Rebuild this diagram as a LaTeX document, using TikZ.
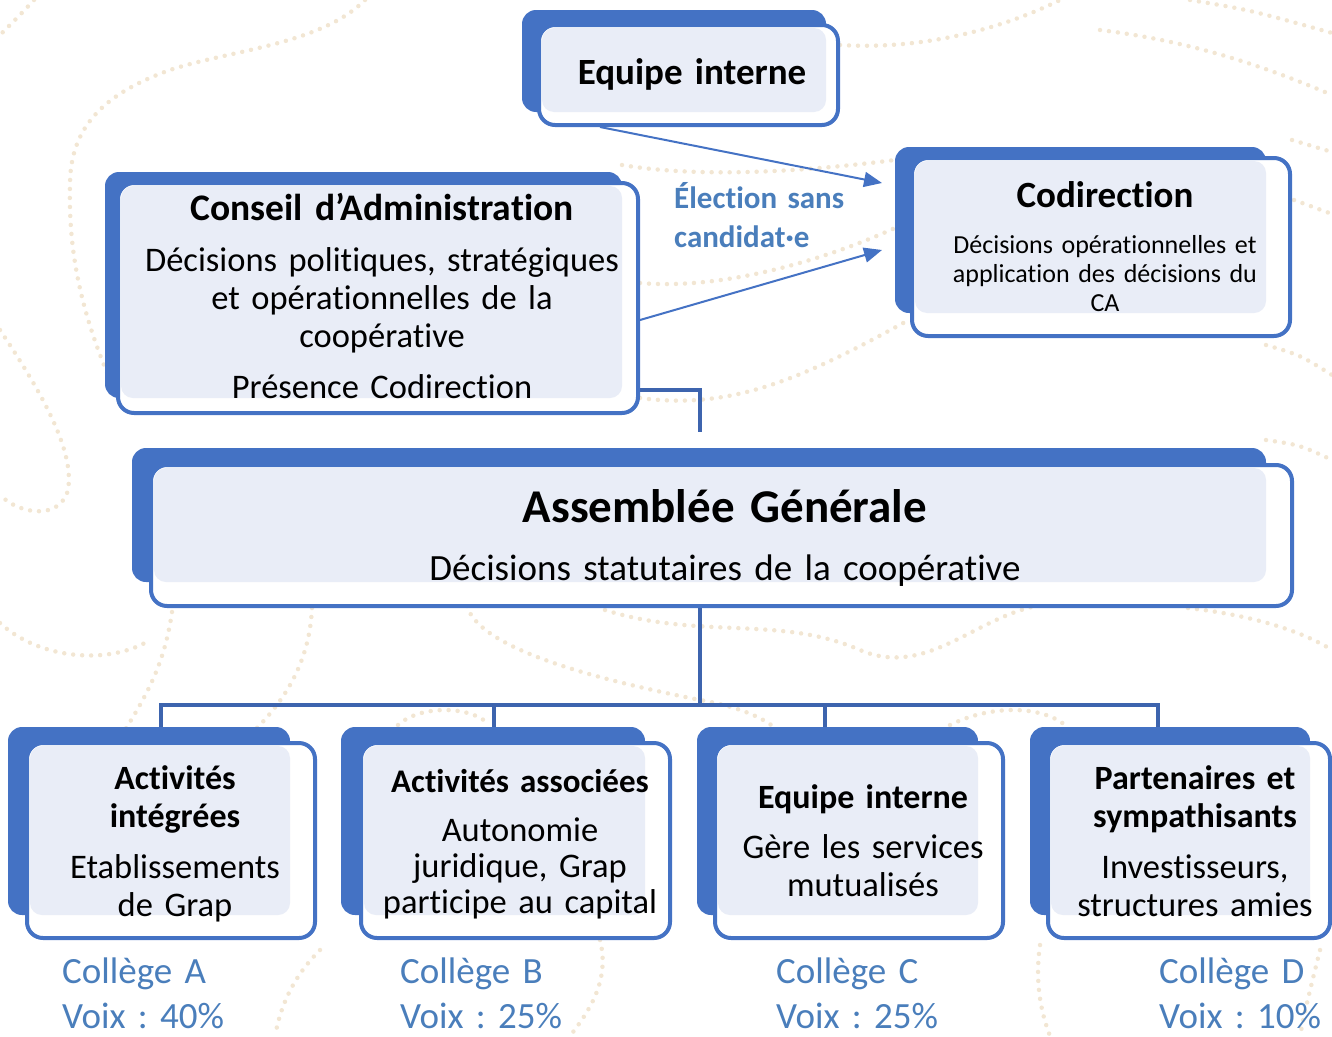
\documentclass[tikz,border=0pt]{standalone}
\usepackage{fontspec}
\setmainfont{Carlito}[Ligatures=NoCommon, Contextuals=NoAlternate]
\usepackage{tikz}
\usetikzlibrary{arrows.meta,calc,fit,backgrounds}
\frenchspacing

\definecolor{boxblue}{HTML}{4472C4}
\definecolor{boxfill}{HTML}{E9EDF7}
\definecolor{treeblue}{HTML}{3D64AE}
\definecolor{textblue}{HTML}{4A7EBB}
\definecolor{dotbeige}{HTML}{F2E6D3}

\tikzset{
  frontbox/.style={draw=boxblue, line width=4pt, fill=white, rounded corners=16pt, inner sep=0pt},
  boxtitle/.style={font=\bfseries\fontsize{34}{38}\selectfont, text width=540pt, align=center, inner sep=0pt, anchor=base},
  boxtext/.style={font=\fontsize{34.5}{38}\selectfont, text width=540pt, align=center, inner sep=0pt, anchor=base},
  college/.style={font=\fontsize{37}{45}\selectfont, text=textblue, text width=300pt, align=left, inner sep=0pt, anchor=base west},
  elect/.style={font=\bfseries\fontsize{31}{39}\selectfont, text=textblue, text width=250pt, align=left, inner sep=0pt, anchor=base west},
  vote/.style={draw=boxblue, line width=2pt, -{Triangle[length=18pt,width=15pt]}},
  tree/.style={draw=treeblue, line width=4.5pt},
  bgdots/.style={draw=dotbeige, line width=4.5pt, line cap=round, dash pattern=on 0pt off 9pt}
}

% back block, white front block, light overlap
\newcommand{\GrapBox}[5]{%
  \fill[boxblue, rounded corners=14pt] #2 rectangle #3;
  \node[frontbox, fit={#4 #5}] (#1) {};
  \fill[boxfill, rounded corners=12pt] ($#4+(3,3)$) rectangle #3;
}

\begin{document}
\begin{tikzpicture}[x=1pt,y=-1pt]
    \useasboundingbox (0,0) rectangle (1332,1036);

    % dotted background
    \begin{scope}[on background layer]
    \draw[bgdots] (34,0) .. controls (20,15) .. (0,35);
    \draw[bgdots] (365,0) .. controls (320,45) and (230,50) .. (170,70) .. controls (100,95) and (70,130) .. (70,185) .. controls (68,260) and (85,320) .. (110,380);
    \draw[bgdots] (0,330) .. controls (40,390) and (75,450) .. (68,490) .. controls (60,520) and (20,515) .. (0,495);
    \draw[bgdots] (0,623) .. controls (40,660) and (110,665) .. (150,640);
    \draw[bgdots] (172,612) .. controls (165,660) and (150,690) .. (125,730);
    \draw[bgdots] (312,608) .. controls (310,650) and (295,690) .. (255,730);
    \draw[bgdots] (467,606) .. controls (480,650) and (600,680) .. (700,700) .. controls (730,705) and (760,715) .. (775,728);
    \draw[bgdots] (605,610) .. controls (700,640) and (780,615) .. (860,650) .. controls (930,680) and (980,610) .. (1050,604);
    \draw[bgdots] (1188,608) .. controls (1250,615) and (1300,630) .. (1332,650);
    \draw[bgdots] (398,725) .. controls (420,705) and (470,705) .. (490,725);
    \draw[bgdots] (950,725) .. controls (990,705) and (1040,705) .. (1065,725);
    \draw[bgdots] (622,165) .. controls (700,178) and (800,172) .. (895,160);
    \draw[bgdots] (640,283) .. controls (720,290) and (820,262) .. (895,228);
    \draw[bgdots] (640,398) .. controls (730,410) and (800,380) .. (905,322);
    \draw[bgdots] (840,45) .. controls (920,50) and (1000,30) .. (1060,0);
    \draw[bgdots] (1190,0) .. controls (1250,10) .. (1332,33);
    \draw[bgdots] (1100,30) .. controls (1180,40) and (1250,60) .. (1332,95);
    \draw[bgdots] (1292,140) -- (1332,152);
    \draw[bgdots] (1294,200) -- (1332,214);
    \draw[bgdots] (1266,345) .. controls (1300,355) .. (1332,375);
    \draw[bgdots] (1266,440) .. controls (1300,445) .. (1332,460);
    \draw[bgdots] (320,950) .. controls (290,980) and (280,1010) .. (275,1036);
    \draw[bgdots] (600,940) .. controls (610,980) and (590,1010) .. (570,1036);
    \draw[bgdots] (1040,945) .. controls (1035,980) and (1040,1010) .. (1050,1036);
    \draw[bgdots] (1320,950) .. controls (1310,990) and (1305,1010) .. (1300,1036);
    \end{scope}

    \GrapBox{eq}{(522,10)}{(826,112)}{(539,25)}{(838,125)}
    \GrapBox{ca}{(105,172)}{(622,398)}{(118,183)}{(638,413)}
    \GrapBox{codir}{(895,147)}{(1266,313)}{(912,158)}{(1290,336)}
    \GrapBox{ag}{(132,448)}{(1266,582)}{(151,465)}{(1292,606)}
    \GrapBox{colA}{(8,727)}{(290,915)}{(27,743)}{(315,938)}
    \GrapBox{colB}{(341,727)}{(645,915)}{(361,743)}{(670,938)}
    \GrapBox{colC}{(697,727)}{(978,915)}{(715,743)}{(1003,938)}
    \GrapBox{colD}{(1030,727)}{(1310,915)}{(1048,743)}{(1330,938)}

    \node[boxtitle, font=\bfseries\fontsize{37}{38}\selectfont] (eq-t) at (692,84) {Equipe interne};
    \node[boxtitle, font=\bfseries\fontsize{37.5}{38}\selectfont] (ca-t) at (382,220) {Conseil d’Administration};
    \node[boxtext] (ca-b) at (382,271) {Décisions politiques, stratégiques\\et opérationnelles de la\\coopérative\\[13pt]Présence Codirection};
    \node[boxtitle, font=\bfseries\fontsize{37}{38}\selectfont] (codir-t) at (1105,207) {Codirection};
    \node[boxtext, font=\fontsize{26}{29}\selectfont] (codir-b) at (1105,253) {Décisions opérationnelles et\\application des décisions du\\CA};
    \node[boxtitle, text width=900pt, font=\bfseries\fontsize{47}{50}\selectfont] (ag-t) at (725,522) {Assemblée Générale};
    \node[boxtext, text width=900pt, font=\fontsize{37}{40}\selectfont] (ag-b) at (725,580) {Décisions statutaires de la coopérative};

    \node[boxtitle] (colA-t) at (175,789) {Activités\\intégrées};
    \node[boxtext] (colA-b) at (175,878) {Etablissements\\de Grap};
    \node[boxtitle, font=\bfseries\fontsize{33}{38}\selectfont] (colB-t) at (520,792) {Activités associées};
    \node[boxtext, font=\fontsize{34.5}{36}\selectfont] (colB-b) at (520,841) {Autonomie\\juridique, Grap\\participe au capital};
    \node[boxtitle] (colC-t) at (863,808) {Equipe interne};
    \node[boxtext] (colC-b) at (863,858) {Gère les services\\mutualisés};
    \node[boxtitle] (colD-t) at (1195,789) {Partenaires et\\sympathisants};
    \node[boxtext] (colD-b) at (1195,878) {Investisseurs,\\structures amies};

    \node[college] (voixA) at (62,983) {Collège A\\Voix : 40\%};
    \node[college] (voixB) at (400,983) {Collège B\\Voix : 25\%};
    \node[college] (voixC) at (776,983) {Collège C\\Voix : 25\%};
    \node[college] (voixD) at (1159,983) {Collège D\\Voix : 10\%};

    % election
    \node[elect] (elec) at (674,208) {Élection sans\\candidat·e};
    \coordinate (codirA) at (882,183);
    \coordinate (codirB) at (882,250);
    \draw[vote] (eq.south -| 600,0) -- (codirA);
    \draw[vote] (ca.east |- 0,320) -- (codirB);

    % links
    \coordinate (caag) at (700,432);
    \begin{scope}[on background layer]
    \draw[tree] (ca.east |- 0,390) -| (caag);
    \draw[tree] (ag.south -| 700,0) -- (700,705) coordinate (fork);
    \foreach \n/\x in {colA/161,colB/494,colC/825,colD/1158}
        \draw[tree] (fork) -| (\n.north -| \x,0);
    \end{scope}
\end{tikzpicture}
\end{document}
